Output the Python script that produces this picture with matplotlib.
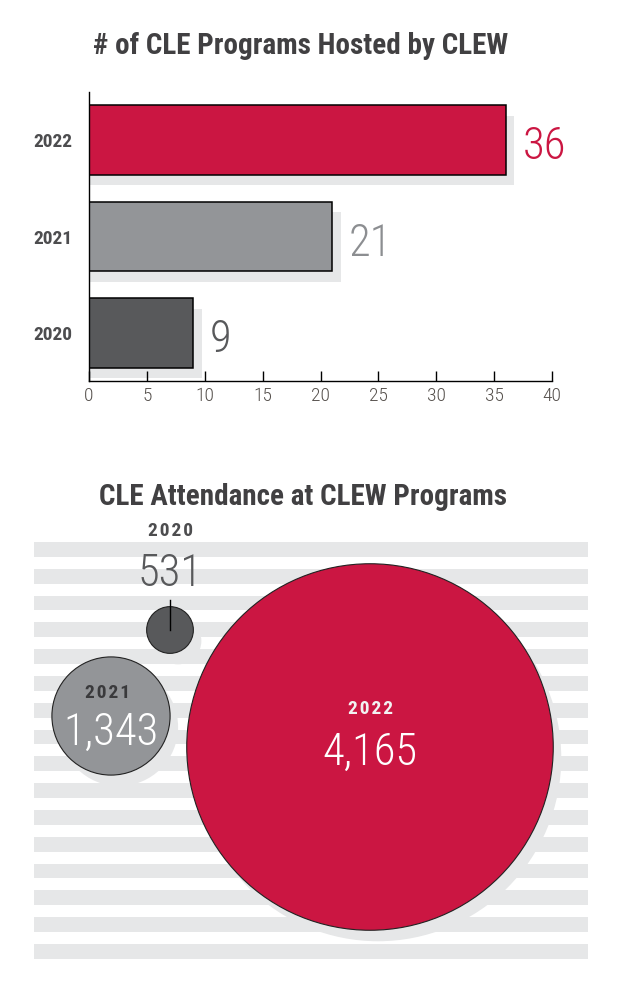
import numpy as np
import matplotlib
matplotlib.use("Agg")
import matplotlib.pyplot as plt
from matplotlib import font_manager
from matplotlib.patches import Circle, Rectangle

# data
years = ["2020", "2021", "2022"]
programs = [9, 21, 36]
attendance = [531, 1343, 4165]
bar_ticks = [0, 5, 10, 15, 20, 25, 30, 35, 40]

RED = "#CB1642"
GRAY = "#939598"
DARK = "#58595B"
SHADE = "#E6E7E8"
TXT = "#414042"
colors = [DARK, GRAY, RED]
value_colors = [DARK, "#8C8E91", RED]

names = {f.name for f in font_manager.fontManager.ttflist}
def pick(*cands):
    for c in cands:
        if c in names:
            return c
    return "DejaVu Sans"

NARROW = pick("Roboto Condensed", "Liberation Sans Narrow", "DejaVu Sans Condensed")
FAM = [NARROW, "DejaVu Sans"]

W, H, DPI = 620, 984, 100
fig = plt.figure(figsize=(W / DPI, H / DPI), dpi=DPI)

def px(x, y):
    # pixel position -> figure fraction
    return x / W, 1 - y / H

# ---- top chart: horizontal bars ----
fig.text(*px(301, 46), "# of CLE Programs Hosted by CLEW", ha="center", va="center",
         fontsize=21, fontweight="bold", color=TXT, family=FAM)

ax = fig.add_axes([89 / W, 1 - 381 / H, 463 / W, 289 / H])
ypos = np.arange(len(years))
bh = 0.72
sdx, sdy = 0.75, 0.11   # shadow offset in data units (~8px, ~11px)
ax.barh(ypos - sdy, np.array(programs) + sdx, height=bh, color=SHADE, zorder=1)
ax.barh(ypos, programs, height=bh, color=colors, edgecolor="black", linewidth=1.1, zorder=2)
for y, v, c in zip(ypos, programs, value_colors):
    ax.text(v + 1.45, y - 0.2, str(v), ha="left", va="baseline", fontsize=32,
            fontweight="light", color=c, family=FAM)

ax.set_xlim(0, 40)
ax.set_ylim(-0.5, 2.5)
ax.set_xticks(bar_ticks)
ax.set_xticklabels([str(t) for t in bar_ticks], family=FAM, fontsize=14,
                   fontweight="light", color="#55504C")
ax.set_yticks(ypos)
ax.set_yticklabels(years, family=FAM, fontsize=14, fontweight="bold", color="#4D4D4F")
ax.tick_params(axis="x", direction="in", length=7, width=1, pad=4)
ax.tick_params(axis="y", length=0, pad=12)
for s in ["top", "right"]:
    ax.spines[s].set_visible(False)
ax.spines["left"].set_linewidth(1)
ax.spines["bottom"].set_linewidth(1)

# ---- bottom chart: bubbles ----
fig.text(*px(303, 497), "CLE Attendance at CLEW Programs", ha="center", va="center",
         fontsize=21, fontweight="bold", color=TXT, family=FAM)

bx = fig.add_axes([0, 0, 1, 504 / H])
bx.set_xlim(0, W)
bx.set_ylim(H, 480)
bx.axis("off")

# striped background
for i in range(16):
    bx.add_patch(Rectangle((34, 542 + i * 26.8), 554, 14.7, color=SHADE, lw=0, zorder=0))

k = 0.044  # radius in px per attendee
centers = {"2020": (170, 630), "2021": (111, 716), "2022": (370, 747)}
for yr, v in zip(years, attendance):
    cx, cy = centers[yr]
    bx.add_patch(Circle((cx + 8, cy + 11), v * k, color=SHADE, lw=0, zorder=1))
for yr, v, c in zip(years, attendance, colors):
    cx, cy = centers[yr]
    bx.add_patch(Circle((cx, cy), v * k, facecolor=c, edgecolor="#222222", lw=0.8, zorder=2))

def spaced(s):
    return "\u200a".join(s)

# 2020 labels sit above the small bubble
cx, cy = centers["2020"]
bx.plot([cx, cx], [600, cy], color="black", lw=1, zorder=3)
bx.text(cx, 531, spaced("2020"), ha="center", va="center", fontsize=14,
        fontweight="bold", color="#4D4D4F", family=FAM)
bx.text(cx, 586, f"{attendance[0]:,}", ha="center", va="baseline", fontsize=32,
        fontweight="light", color=DARK, family=FAM)

cx, cy = centers["2021"]
bx.text(cx - 3, 693, spaced("2021"), ha="center", va="center", fontsize=14,
        fontweight="bold", color="#3A3A3C", family=FAM, zorder=4)
bx.text(cx, 745, f"{attendance[1]:,}", ha="center", va="baseline", fontsize=32,
        fontweight="light", color="white", family=FAM, zorder=4)

cx, cy = centers["2022"]
bx.text(cx, 709, spaced("2022"), ha="center", va="center", fontsize=14,
        fontweight="bold", color="#F2F2F2", family=FAM, zorder=4)
bx.text(cx, 765, f"{attendance[2]:,}", ha="center", va="baseline", fontsize=32,
        fontweight="light", color="white", family=FAM, zorder=4)

fig.savefig("out.png", dpi=DPI)
